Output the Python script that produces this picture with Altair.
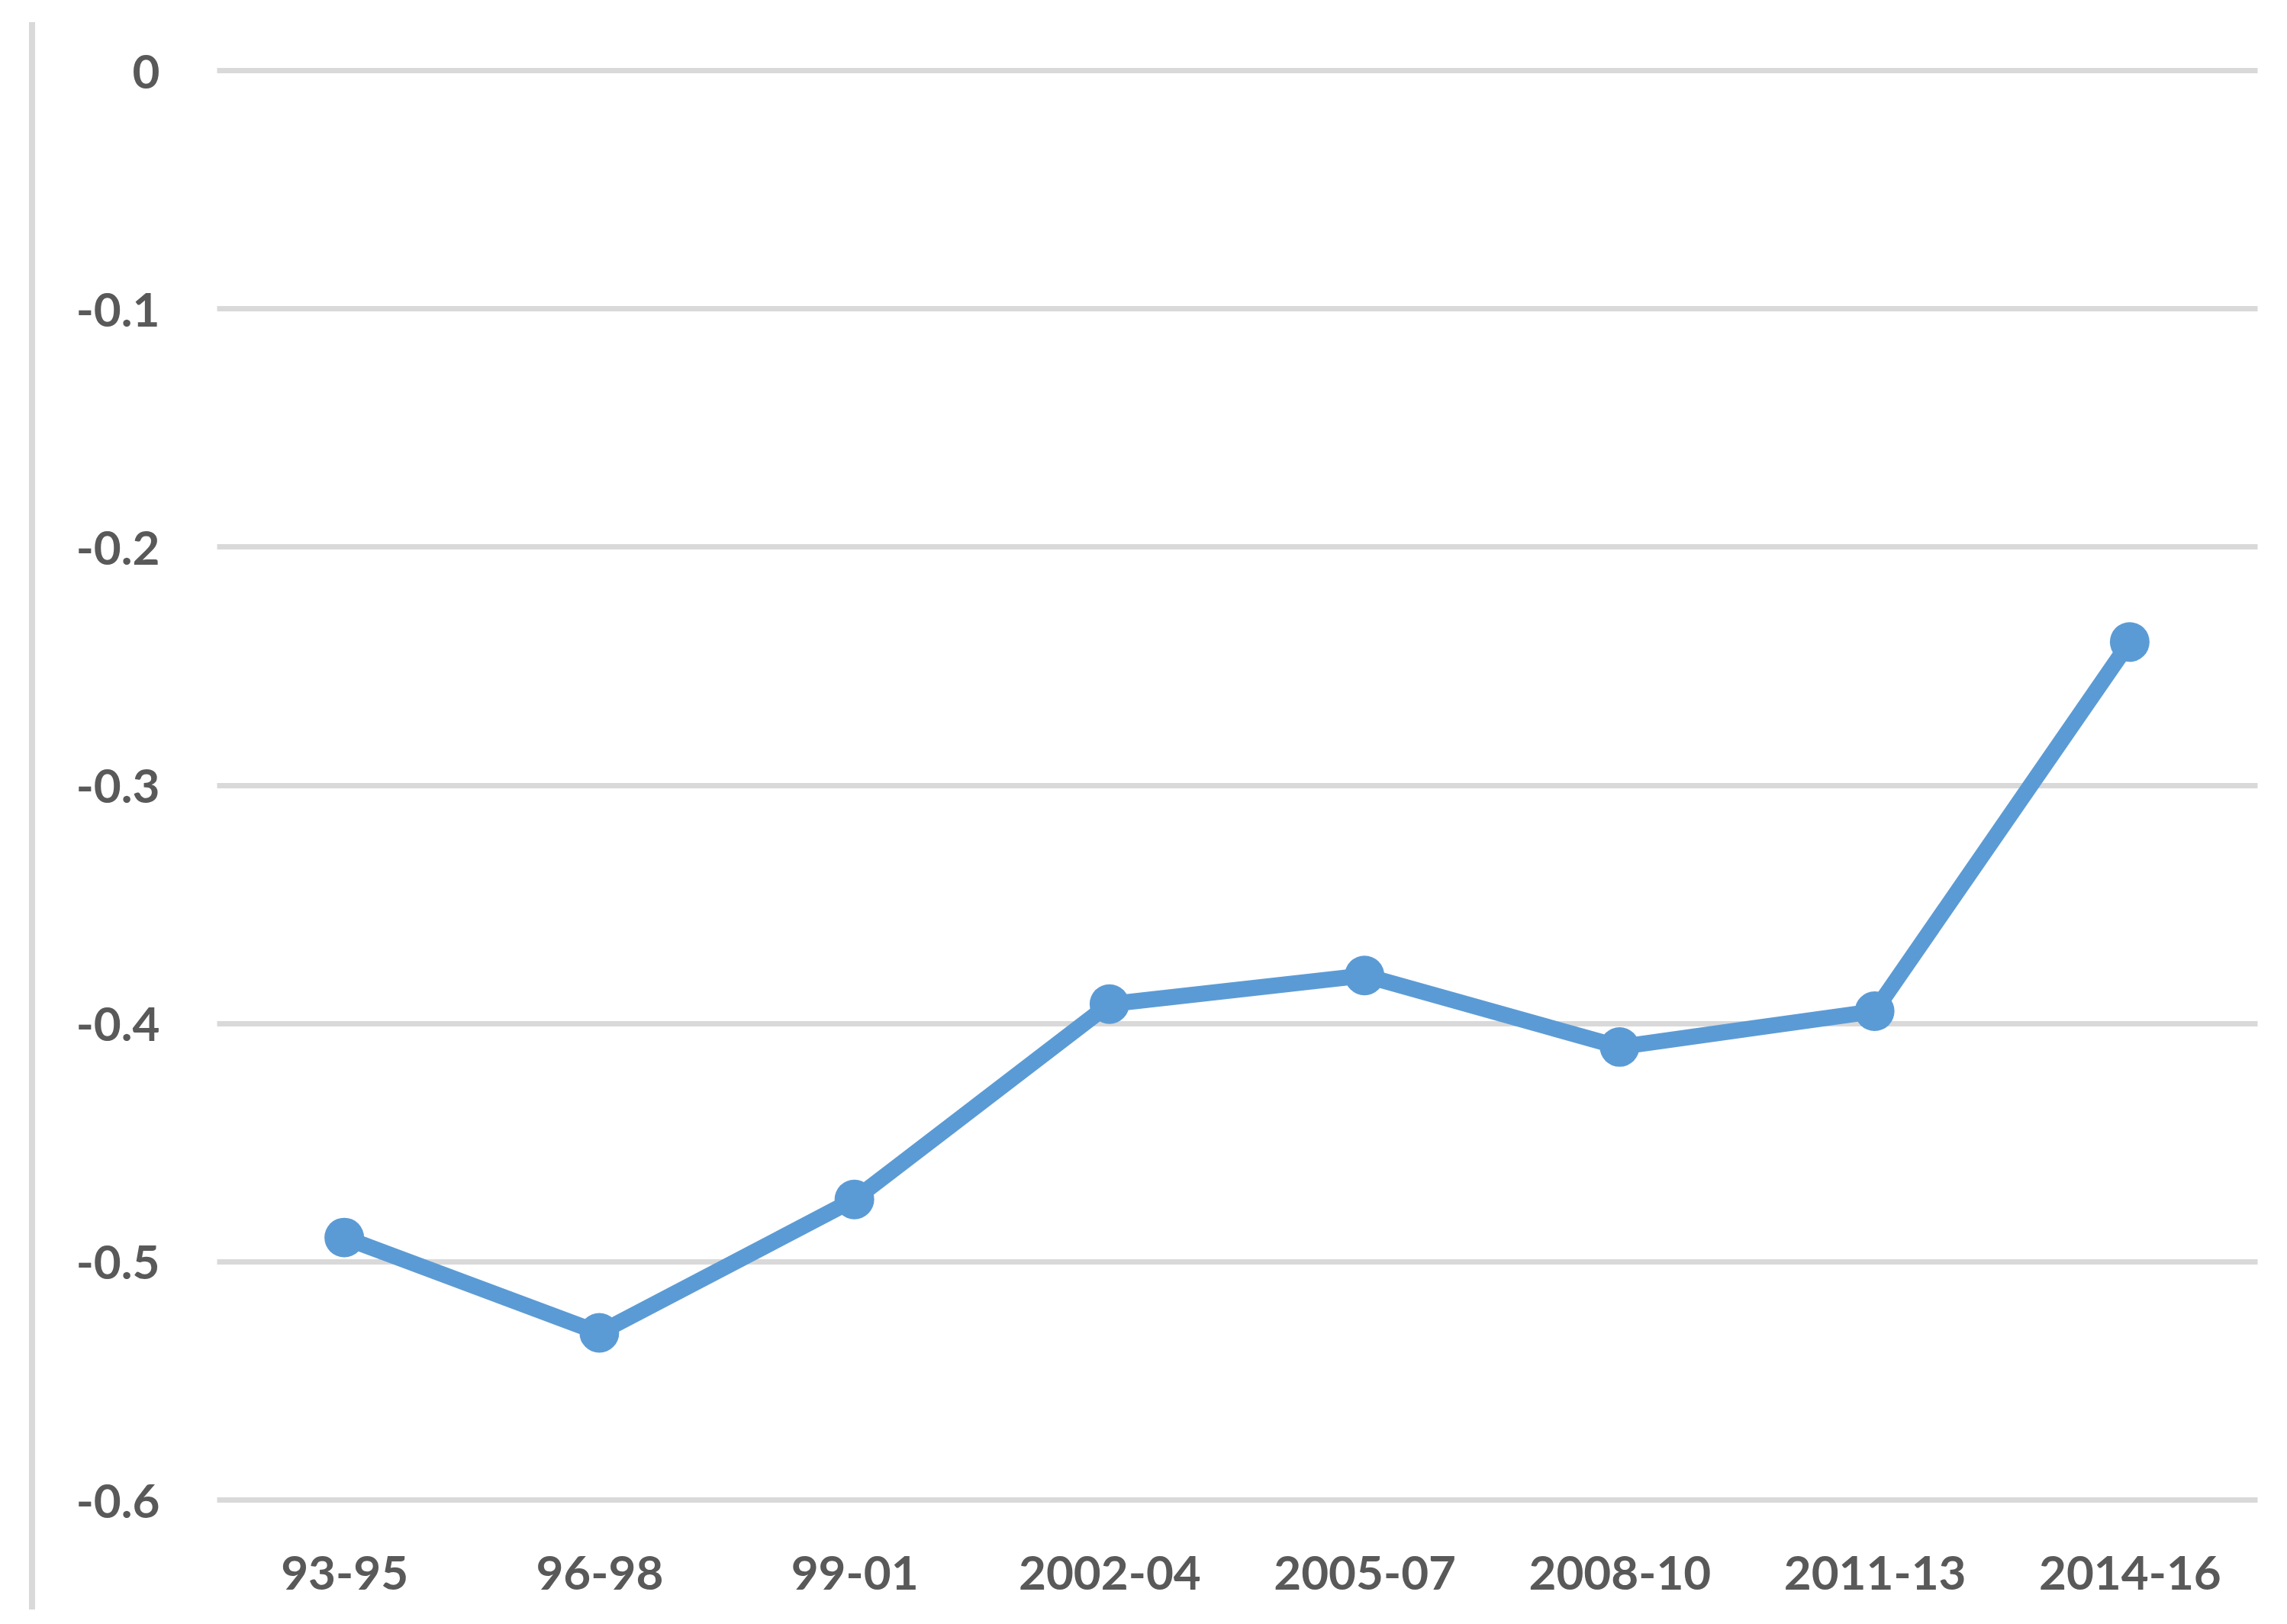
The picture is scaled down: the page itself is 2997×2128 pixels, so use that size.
import altair as alt
import pandas as pd

periods = ["93-95", "96-98", "99-01", "2002-04", "2005-07", "2008-10", "2011-13", "2014-16"]
values = [-0.490, -0.530, -0.474, -0.392, -0.380, -0.410, -0.395, -0.240]
y_ticks = [0, -0.1, -0.2, -0.3, -0.4, -0.5, -0.6]

df = pd.DataFrame({"period": periods, "value": values})

FONT = "Lato"
TXT = "#595959"
GRID = "#d9d9d9"
BLUE = "#5B9BD5"

x_enc = alt.X(
    "period:N",
    sort=periods,
    title=None,
    scale=alt.Scale(padding=0.5),
    axis=alt.Axis(
        labelAngle=0,
        labelFont=FONT,
        labelFontSize=62,
        labelFontWeight="bold",
        labelColor=TXT,
        labelPadding=98,
        labelBaseline="middle",
        labelLimit=0,
        labelOverlap=False,
        ticks=False,
        domain=False,
        grid=False,
    ),
)
y_enc = alt.Y(
    "value:Q",
    title=None,
    scale=alt.Scale(domain=[-0.6, 0], nice=False, zero=False),
    axis=alt.Axis(
        values=y_ticks,
        labelExpr="datum.value == 0 ? '0' : '-' + format(abs(datum.value), '.1f')",
        labelFont=FONT,
        labelFontSize=62,
        labelFontWeight="bold",
        labelColor=TXT,
        labelPadding=75,
        labelOffset=4,
        ticks=False,
        domain=False,
        grid=True,
        gridColor=GRID,
        gridWidth=7,
    ),
)

base = alt.Chart(df)
line = base.mark_line(color=BLUE, strokeWidth=21, strokeJoin="round", strokeCap="round").encode(x=x_enc, y=y_enc)
pts = base.mark_point(filled=True, color=BLUE, size=2700, opacity=1).encode(x=x_enc, y=y_enc)

frame = alt.Chart(pd.DataFrame({"a": [0]})).mark_rule(color=GRID, strokeWidth=8).encode(
    x=alt.value(-242), y=alt.value(-63), y2=alt.value(2017)
)

chart = alt.layer(frame, line, pts).properties(
    width=2674,
    height=1873,
    autosize=alt.AutoSizeParams(type="none"),
    padding={"left": 276, "top": 84, "right": 30, "bottom": 160},
    background="white",
).configure_view(stroke=None)

chart.save("out.html", embed_options={"renderer": "svg", "actions": False})
